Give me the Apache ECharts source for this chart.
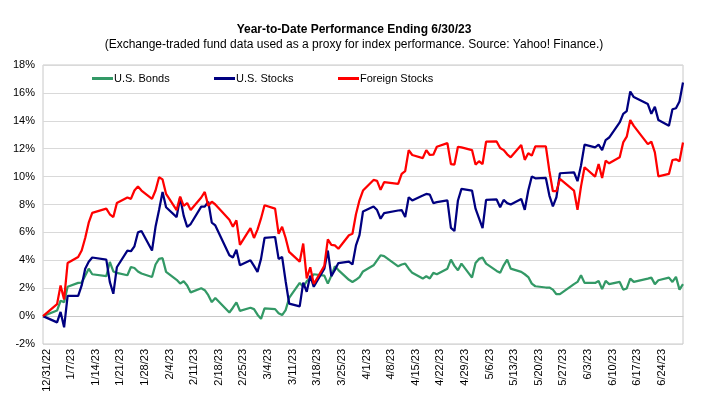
<!DOCTYPE html>
<html>
<head>
<meta charset="utf-8">
<script src="https://cdn.jsdelivr.net/npm/echarts/dist/echarts.min.js"></script>
<style>
  html, body { margin: 0; padding: 0; background: #fff; }
  #chart { width: 708px; height: 407px; }
</style>
</head>
<body>
<div id="chart"></div>
<script>
// trading days, 12/30/22 is the base (0%)
var tradeDates = [
  '12/30/22',
  '1/3/23','1/4/23','1/5/23','1/6/23',
  '1/9/23','1/10/23','1/11/23','1/12/23','1/13/23',
  '1/17/23','1/18/23','1/19/23','1/20/23',
  '1/23/23','1/24/23','1/25/23','1/26/23','1/27/23',
  '1/30/23','1/31/23','2/1/23','2/2/23','2/3/23',
  '2/6/23','2/7/23','2/8/23','2/9/23','2/10/23',
  '2/13/23','2/14/23','2/15/23','2/16/23','2/17/23',
  '2/21/23','2/22/23','2/23/23','2/24/23',
  '2/27/23','2/28/23','3/1/23','3/2/23','3/3/23',
  '3/6/23','3/7/23','3/8/23','3/9/23','3/10/23',
  '3/13/23','3/14/23','3/15/23','3/16/23','3/17/23',
  '3/20/23','3/21/23','3/22/23','3/23/23','3/24/23',
  '3/27/23','3/28/23','3/29/23','3/30/23','3/31/23',
  '4/3/23','4/4/23','4/5/23','4/6/23',
  '4/10/23','4/11/23','4/12/23','4/13/23','4/14/23',
  '4/17/23','4/18/23','4/19/23','4/20/23','4/21/23',
  '4/24/23','4/25/23','4/26/23','4/27/23','4/28/23',
  '5/1/23','5/2/23','5/3/23','5/4/23','5/5/23',
  '5/8/23','5/9/23','5/10/23','5/11/23','5/12/23',
  '5/15/23','5/16/23','5/17/23','5/18/23','5/19/23',
  '5/22/23','5/23/23','5/24/23','5/25/23','5/26/23',
  '5/30/23','5/31/23','6/1/23','6/2/23',
  '6/5/23','6/6/23','6/7/23','6/8/23','6/9/23',
  '6/12/23','6/13/23','6/14/23','6/15/23','6/16/23',
  '6/20/23','6/21/23','6/22/23','6/23/23',
  '6/26/23','6/27/23','6/28/23','6/29/23','6/30/23'
];

var usBonds = [
  0,
  0.4, 1.1, 1.0, 2.1,
  2.38, 2.4, 2.9, 3.4, 3.0,
  2.86, 3.88, 3.2, 3.1,
  2.93, 3.52, 3.45, 3.2, 3.05,
  2.8, 3.7, 4.1, 4.15, 3.17,
  2.6, 2.33, 2.5, 2.2, 1.7,
  2.0, 1.86, 1.5, 1.0, 1.3,
  0.26, 0.6, 0.98, 0.38,
  0.6, 0.5, 0.1, -0.2, 0.55,
  0.5, 0.2, 0.07, 0.43, 1.3,
  2.38, 2.1, 2.5, 2.7, 3.0,
  2.9, 2.33, 2.9, 3.57, 3.3,
  2.6, 2.45, 2.6, 2.8, 3.2,
  3.64, 4.0, 4.36, 4.3,
  3.57, 3.7, 3.76, 3.4, 3.1,
  2.69, 2.86, 2.7, 3.1, 3.0,
  3.4, 4.05, 3.6, 3.29, 3.76,
  2.76, 3.8, 4.1, 4.19, 3.76,
  3.24, 3.1, 3.64, 4.05, 3.4,
  3.17, 3.0, 2.8, 2.33, 2.14,
  2.05, 2.05, 1.9, 1.57, 1.57,
  2.29, 2.45, 2.93, 2.38,
  2.38, 2.52, 1.93, 2.52, 2.29,
  2.45, 1.9, 1.98, 2.69, 2.45,
  2.69, 2.76, 2.29, 2.57,
  2.76, 2.45, 2.81, 1.9, 2.29
];

var usStocks = [
  0,
  -0.45, 0.3, -0.8, 1.45,
  1.45, 2.2, 3.4, 3.9, 4.2,
  4.05, 2.45, 1.6, 3.5,
  4.7, 4.65, 5.0, 6.0, 6.1,
  4.7, 6.4, 7.6, 8.9, 7.8,
  7.1, 8.5, 7.2, 6.4, 6.6,
  7.85, 7.85, 8.2, 6.7, 6.5,
  4.36, 4.2, 4.76, 3.64,
  4.0, 3.6, 3.17, 4.1, 5.6,
  5.67, 4.1, 4.24, 2.5, 0.9,
  0.7, 2.4, 1.74, 2.9, 2.1,
  3.4, 4.7, 2.86, 3.3, 3.8,
  3.9, 3.7, 5.07, 5.8, 7.5,
  7.86, 7.6, 6.98, 7.38,
  7.57, 7.6, 7.1, 8.52, 8.29,
  8.64, 8.76, 8.71, 8.1, 8.17,
  8.29, 6.33, 6.1, 8.29, 9.12,
  9.0, 7.7, 7.0, 6.3, 8.33,
  8.36, 7.8, 8.33, 8.1, 8.0,
  8.4, 7.62, 9.0, 10.0, 9.88,
  9.9, 8.64, 7.86, 8.52, 10.24,
  10.31, 9.67, 10.8, 12.29,
  12.1, 12.29, 11.9, 12.62, 12.8,
  13.88, 14.5, 14.7, 16.1, 15.7,
  15.2, 14.5, 15.0, 14.05,
  13.64, 14.83, 14.9, 15.38, 16.74
];

var foreignStocks = [
  0,
  0.86, 2.2, 1.2, 3.8,
  4.24, 4.7, 5.6, 6.7, 7.4,
  7.7, 7.3, 7.1, 8.1,
  8.5, 8.4, 9.0, 9.3, 9.0,
  8.4, 9.0, 9.95, 9.8, 8.76,
  7.6, 8.57, 7.9, 8.1, 7.6,
  8.5, 8.9, 7.9, 8.2, 8.0,
  6.9, 6.4, 6.86, 5.1,
  6.3, 5.6, 6.2, 7.0, 7.95,
  7.7, 5.9, 6.4, 5.6, 4.6,
  3.9, 5.2, 2.7, 3.5, 2.3,
  3.6, 5.5, 5.1, 5.07, 4.83,
  5.8, 5.9, 7.3, 8.3, 9.0,
  9.76, 9.7, 9.05, 9.6,
  9.48, 10.2, 10.4, 11.9, 11.55,
  11.33, 11.9, 11.55, 11.57, 12.14,
  12.4, 10.9, 10.86, 12.14, 12.1,
  11.9, 10.86, 11.1, 10.9, 12.5,
  12.52, 12.05, 11.9, 11.6, 11.38,
  12.26, 11.2, 11.67, 11.5, 12.17,
  12.17, 10.4, 8.95, 8.95, 9.83,
  9.0, 7.62, 9.3, 10.67,
  10.0, 10.9, 9.9, 11.14, 10.95,
  11.38, 12.45, 12.86, 14.05, 13.64,
  12.33, 12.5, 11.74, 10.02,
  10.19, 11.19, 11.24, 11.1, 12.45
];

var seriesNames = ['U.S. Bonds', 'U.S. Stocks', 'Foreign Stocks'];
var seriesColors = ['#339966', '#000080', '#ff0000'];

// every calendar day on the axis (Excel date axis)
function fmtDay(dt) {
    return (dt.getUTCMonth() + 1) + '/' + dt.getUTCDate() + '/' + String(dt.getUTCFullYear()).slice(2);
}
var calendarDays = [];
for (var t = Date.UTC(2022, 11, 30); t <= Date.UTC(2023, 5, 30); t += 86400000) {
    calendarDays.push(fmtDay(new Date(t)));
}

function toDaily(values) {
    var lookup = {};
    tradeDates.forEach(function(d, i) { lookup[d] = values[i]; });
    return calendarDays.map(function(d) {
        return (d in lookup) ? lookup[d] : null;
    });
}

var font = '"Liberation Sans", Arial, sans-serif';

var chart = echarts.init(document.getElementById('chart'));
var option = {
    animation: false,
    backgroundColor: '#ffffff',
    title: [
        {
            text: 'Year-to-Date Performance Ending 6/30/23',
            left: 'center',
            top: 19,
            textStyle: { fontFamily: font, fontSize: 12, fontWeight: 'bold', color: '#000' }
        },
        {
            text: '(Exchange-traded fund data used as a proxy for index performance. Source: Yahoo! Finance.)',
            left: 'center',
            top: 34,
            textStyle: { fontFamily: font, fontSize: 12, fontWeight: 'normal', color: '#000' }
        }
    ],
    legend: [0, 1, 2].map(function(i) {
        return {
            data: [seriesNames[i]],
            left: [87, 209, 333][i],
            top: 68,
            icon: 'rect',
            itemWidth: 21,
            itemHeight: 3,
            itemGap: 0,
            textStyle: { fontFamily: font, fontSize: 11, color: '#000', padding: [0, 0, 0, -4] }
        };
    }),
    grid: {
        left: 43,
        right: 25,
        top: 65,
        bottom: 63,
        show: true,
        borderColor: '#c8c8c8',
        borderWidth: 1,
        backgroundColor: 'transparent'
    },
    xAxis: {
        type: 'category',
        data: calendarDays,
        boundaryGap: false,
        axisLine: { show: true, lineStyle: { color: '#c8c8c8' } },
        axisTick: { show: false },
        splitLine: { show: false },
        axisLabel: {
            rotate: 90,
            margin: 5,
            interval: function(index) { return (index - 1) % 7 === 0; },
            fontFamily: font,
            fontSize: 11,
            color: '#000'
        }
    },
    yAxis: {
        type: 'value',
        min: -2,
        max: 18,
        interval: 2,
        axisLine: { show: false },
        axisTick: { show: false },
        splitLine: { lineStyle: { color: '#d9d9d9', width: 1 } },
        axisLabel: {
            margin: 8,
            fontFamily: font,
            fontSize: 11,
            color: '#000',
            formatter: '{value}%'
        }
    },
    series: [usBonds, usStocks, foreignStocks].map(function(vals, i) {
        return {
            name: seriesNames[i],
            type: 'line',
            data: toDaily(vals),
            connectNulls: true,
            showSymbol: false,
            symbol: 'none',
            color: seriesColors[i],
            lineStyle: { width: 2.25, color: seriesColors[i] }
        };
    })
};
chart.setOption(option);
</script>
</body>
</html>
